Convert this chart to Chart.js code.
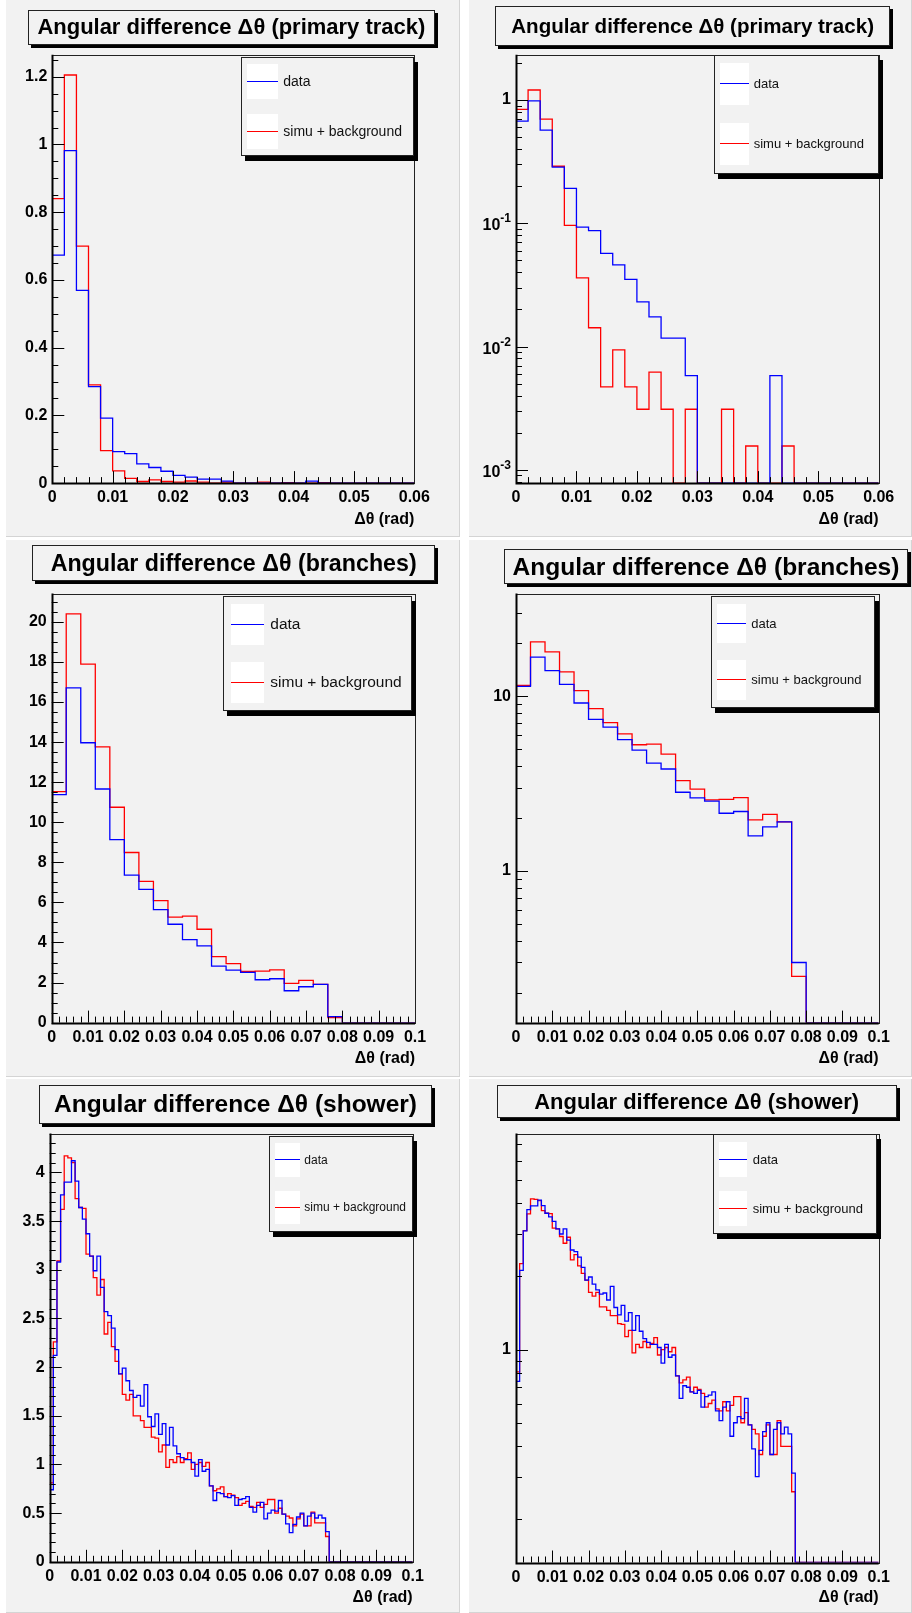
<!DOCTYPE html>
<html>
<head>
<meta charset="utf-8">
<script src="https://cdn.jsdelivr.net/npm/chart.js@4.4.1/dist/chart.umd.min.js"></script>
<style>
  body { margin: 0; background: #fff; width: 912px; height: 1613px; position: relative; overflow: hidden;
         font-family: "Liberation Sans", Arial, sans-serif; }
  .pad { position: absolute; background: #f2f2f2; box-sizing: border-box;
         border-right: 1px solid #d4d4d4; border-bottom: 1px solid #d4d4d4; }
  .pad canvas { position: absolute; left: 0; top: 0; }
  .title { position: absolute; box-sizing: border-box; border: 1px solid #222; background: #f2f2f2;
           box-shadow: 3px 3px 0 #000; font-weight: bold; color: #000; text-align: center; white-space: nowrap; }
  .legend { position: absolute; box-sizing: border-box; border: 1px solid #222; background: #f2f2f2;
            box-shadow: 4px 5px 0 #000; }
  .sq { position: absolute; background: #fff; }
  .ln { position: absolute; height: 0; border-top: 1.5px solid; }
  .lt { position: absolute; color: #111; white-space: nowrap; }
  .xlab { position: absolute; font-weight: bold; font-size: 16px; color: #000; white-space: nowrap; }
</style>
</head>
<body>
<script>
// ---- values ----
// primary track: 30 bins of 0.002 rad (0 .. 0.06)
const primaryBinWidth = 0.002;
const primaryData = [0.673, 0.982, 0.569, 0.285, 0.192, 0.093, 0.087, 0.057, 0.046, 0.035,
                     0.023, 0.0174, 0.0117, 0.0117, 0.0058, 0, 0, 0, 0, 0,
                     0, 0.0058, 0, 0, 0, 0, 0, 0, 0, 0];
const primarySimu = [0.84, 1.205, 0.70, 0.29, 0.096, 0.036, 0.0142, 0.0047, 0.0094, 0.0047,
                     0.0031, 0.0062, 0.0031, 0, 0.0031, 0, 0, 0.0031, 0, 0.00156,
                     0, 0, 0.00156, 0, 0, 0, 0, 0, 0, 0];

// branches: 25 bins of 0.004 rad (0 .. 0.1)
const branchBinWidth = 0.004;
const branchData = [11.38, 16.71, 13.97, 11.66, 9.13, 7.36, 6.65, 5.64, 4.91, 4.14,
                    3.83, 2.82, 2.62, 2.51, 2.14, 2.19, 1.59, 1.79, 1.91, 0.30,
                    0, 0, 0, 0, 0];
const branchSimu = [11.53, 20.4, 17.89, 13.76, 10.75, 8.49, 7.05, 6.09, 5.27, 5.32,
                    4.66, 3.29, 2.94, 2.55, 2.57, 2.63, 1.96, 2.11, 1.91, 0.25,
                    0, 0, 0, 0, 0];

// shower: 100 bins of 0.001 rad (0 .. 0.1)
const showerBinWidth = 0.001;
const showerData = [0.74, 2.12, 3.08, 3.77, 3.90, 3.90, 4.12, 3.91, 3.64, 3.52,
                    3.37, 3.14, 2.99, 3.14, 2.82, 2.57, 2.53, 2.40, 2.18, 1.93,
                    1.99, 1.86, 1.76, 1.69, 1.71, 1.60, 1.82, 1.49, 1.39, 1.52,
                    1.31, 1.42, 1.20, 1.38, 1.19, 1.11, 1.07, 1.05, 1.05, 1.02,
                    0.88, 1.05, 0.93, 0.95, 0.78, 0.63, 0.71, 0.70, 0.67, 0.66,
                    0.68, 0.58, 0.64, 0.65, 0.67, 0.56, 0.51, 0.58, 0.61, 0.44,
                    0.50, 0.53, 0.52, 0.63, 0.49, 0.39, 0.30, 0.385, 0.46, 0.50,
                    0.37, 0.47, 0.50, 0.45, 0.48, 0.45, 0.31, 0, 0, 0,
                    0, 0, 0, 0, 0, 0, 0, 0, 0, 0,
                    0, 0, 0, 0, 0, 0, 0, 0, 0, 0];
const showerSimu = [0.81, 2.26, 3.09, 3.62, 4.17, 4.15, 4.10, 3.73, 3.64, 3.63,
                    3.16, 3.14, 2.92, 2.74, 2.90, 2.34, 2.46, 2.21, 2.06, 1.93,
                    1.72, 1.66, 1.72, 1.50, 1.50, 1.45, 1.38, 1.38, 1.28, 1.27,
                    1.13, 1.20, 0.97, 1.05, 1.02, 1.08, 1.02, 1.06, 1.12, 0.95,
                    1.00, 1.02, 0.98, 1.02, 0.78, 0.73, 0.75, 0.77, 0.67, 0.70,
                    0.685, 0.66, 0.58, 0.60, 0.62, 0.57, 0.56, 0.61, 0.56, 0.59,
                    0.64, 0.64, 0.50, 0.55, 0.49, 0.47, 0.45, 0.37, 0.44, 0.49,
                    0.37, 0.37, 0.51, 0.40, 0.40, 0.40, 0.26, 0, 0, 0,
                    0, 0, 0, 0, 0, 0, 0, 0, 0, 0,
                    0, 0, 0, 0, 0, 0, 0, 0, 0, 0];

const seriesNames = ['data', 'simu + background'];
const seriesColors = ['#0000ff', '#ff0000'];
const titlePrimary = 'Angular difference Δθ (primary track)';
const titleBranches = 'Angular difference Δθ (branches)';
const titleShower = 'Angular difference Δθ (shower)';
const xTitle = 'Δθ (rad)';

// ---- pad layout (pixels inside each pad) ----
const pads = [
  { left: 6, top: 0, w: 454, h: 537, title: titlePrimary, titleBox: [21.7, 10.1, 429, 44.6], titleW: 388,
    frame: [46.3, 54.7, 408.3, 483.1], legBox: [234.7, 57.4, 408.3, 156], legSq: [240.7, 271.7],
    legRows: [[64, 98.6], [114, 148.6]], legTextX: 277.3, legFont: 14, xlabY: 518.6,
    xMax: 0.06, y: { type: 'linear', min: 0, max: 1.265, major: 0.2, minor: 0.05 },
    data: primaryData, simu: primarySimu, bin: primaryBinWidth },
  { left: 469, top: 0, w: 443, h: 537, title: titlePrimary, titleBox: [26.3, 6, 421, 46.3], titleW: 363,
    frame: [47, 54.7, 409.7, 483.1], legBox: [244.7, 54.7, 409.7, 174], legSq: [251, 279.7],
    legRows: [[63, 104.7], [123, 165]], legTextX: 284.7, legFont: 13, xlabY: 518.6,
    xMax: 0.06, y: { type: 'logarithmic', min: 0.00078, max: 2.33 },
    data: primaryData, simu: primarySimu, bin: primaryBinWidth },
  { left: 6, top: 540, w: 454, h: 537, title: titleBranches, titleBox: [26.3, 5.2, 429, 41.4], titleW: 366,
    frame: [45.7, 53.5, 409, 482.6], legBox: [217.3, 55.9, 406.3, 170.7], legSq: [224.7, 258],
    legRows: [[64.3, 104.9], [122.4, 163]], legTextX: 264.3, legFont: 15.5, xlabY: 518,
    xMax: 0.1, y: { type: 'linear', min: 0, max: 21.42, major: 2, minor: 0.5 },
    data: branchData, simu: branchSimu, bin: branchBinWidth },
  { left: 469, top: 540, w: 443, h: 537, title: titleBranches, titleBox: [35.3, 8.6, 438.7, 44], titleW: 387,
    frame: [47, 53.5, 409.7, 482.6], legBox: [242, 56.2, 406.3, 168], legSq: [248, 277],
    legRows: [[63.6, 103.5], [119.7, 159.6]], legTextX: 282.3, legFont: 13, xlabY: 518,
    xMax: 0.1, y: { type: 'logarithmic', min: 0.136, max: 38.6 },
    data: branchData, simu: branchSimu, bin: branchBinWidth },
  { left: 6, top: 1079, w: 454, h: 534, title: titleShower, titleBox: [33.3, 5.7, 425.7, 44.6], titleW: 363,
    frame: [43.7, 54.5, 406.7, 482.8], legBox: [263.3, 57, 406.7, 153], legSq: [269, 294],
    legRows: [[64, 98.3], [111.7, 145.3]], legTextX: 298.3, legFont: 12, xlabY: 518,
    xMax: 0.1, y: { type: 'linear', min: 0, max: 4.4, major: 0.5, minor: 0.1 },
    data: showerData, simu: showerSimu, bin: showerBinWidth },
  { left: 469, top: 1079, w: 443, h: 534, title: titleShower, titleBox: [27.7, 5.7, 427.7, 39.3], titleW: 325,
    frame: [47, 54.5, 409.7, 483.5], legBox: [243.7, 55, 408, 155], legSq: [249.7, 277.7],
    legRows: [[63, 97.6], [112.4, 147]], legTextX: 283.7, legFont: 13, xlabY: 518,
    xMax: 0.1, y: { type: 'logarithmic', min: 0.133, max: 7.75 },
    data: showerData, simu: showerSimu, bin: showerBinWidth }
];

const YW = 40, XH = 30;
const fontFamily = '"Liberation Sans", Arial, sans-serif';
const labelFont = { family: fontFamily, size: 16, weight: 'bold' };

const fmt = v => String(Number(v.toFixed(4)));
// decades >= 1 are plain tick labels; negative powers are drawn as 10 + superscript by the plugin
function logLabel(v) {
  const l = Math.log10(v), e = Math.round(l);
  if (Math.abs(l - e) > 1e-6 || e < 0) return '';
  return e === 0 ? '1' : String(Math.pow(10, e));
}

// step outline: one point per bin low edge plus the closing upper edge
function histPoints(values, binWidth, floor) {
  const pts = values.map((v, i) => ({ x: i * binWidth, y: floor ? Math.max(v, floor) : v }));
  pts.push({ x: values.length * binWidth, y: pts[pts.length - 1].y });
  return pts;
}

const mctx = document.createElement('canvas').getContext('2d');
function fitFont(text, width) {
  mctx.font = 'bold 100px "Liberation Sans"';
  return 100 * width / mctx.measureText(text).width;
}

// ROOT style frame: inward ticks on the left and bottom axes
const rootFrame = {
  id: 'rootFrame',
  afterDatasetsDraw(chart, args, o) {
    const { ctx, chartArea: a } = chart;
    const x = chart.scales.x, y = chart.scales.y;
    ctx.save();
    ctx.strokeStyle = '#000';
    ctx.lineWidth = 1;
    ctx.beginPath();
    const nx = Math.round((x.max - x.min) / 0.002);
    for (let k = 0; k <= nx; k++) {
      const px = Math.round(x.getPixelForValue(x.min + k * 0.002)) + 0.5;
      const len = k % 5 === 0 ? 12 : 6;
      ctx.moveTo(px, a.bottom); ctx.lineTo(px, a.bottom - len);
    }
    const negDecades = [];
    if (o.log) {
      for (let e = Math.floor(Math.log10(y.min)); e <= Math.ceil(Math.log10(y.max)); e++) {
        for (let m = 1; m < 10; m++) {
          const v = m * Math.pow(10, e);
          if (v < y.min || v > y.max) continue;
          const py = Math.round(y.getPixelForValue(v)) + 0.5;
          ctx.moveTo(a.left, py); ctx.lineTo(a.left + (m === 1 ? 12 : 6), py);
          if (m === 1 && e < 0) negDecades.push([e, y.getPixelForValue(v)]);
        }
      }
    } else {
      const per = Math.round(o.major / o.minor);
      const ny = Math.floor((y.max - y.min) / o.minor + 1e-6);
      for (let k = 0; k <= ny; k++) {
        const py = Math.round(y.getPixelForValue(y.min + k * o.minor)) + 0.5;
        ctx.moveTo(a.left, py); ctx.lineTo(a.left + (k % per === 0 ? 12 : 6), py);
      }
    }
    ctx.stroke();
    ctx.strokeStyle = '#222';
    ctx.strokeRect(Math.round(a.left) + 0.5, Math.round(a.top) + 0.5,
                   Math.round(a.right - a.left), Math.round(a.bottom - a.top));
    ctx.strokeStyle = '#000';
    ctx.lineWidth = 2;
    ctx.beginPath();
    ctx.moveTo(Math.round(a.left) + 0.5, a.top);
    ctx.lineTo(Math.round(a.left) + 0.5, Math.round(a.bottom) + 0.5);
    ctx.lineTo(a.right, Math.round(a.bottom) + 0.5);
    ctx.stroke();

    // labels 10^-n with a raised exponent, as ROOT prints them
    ctx.fillStyle = '#000';
    ctx.textAlign = 'right';
    ctx.textBaseline = 'alphabetic';
    negDecades.forEach(([e, py]) => {
      const right = a.left - 5;
      ctx.font = 'bold 12px ' + fontFamily;
      const expText = String(e);
      const ew = ctx.measureText(expText).width;
      ctx.fillText(expText, right, py - 1);
      ctx.font = 'bold 16px ' + fontFamily;
      ctx.fillText('10', right - ew, py + 7);
    });
    ctx.restore();
  }
};

function el(parent, cls, css, text) {
  const d = document.createElement('div');
  d.className = cls;
  Object.assign(d.style, css);
  if (text !== undefined) d.textContent = text;
  parent.appendChild(d);
  return d;
}

pads.forEach(p => {
  const pad = el(document.body, 'pad', { left: p.left + 'px', top: p.top + 'px', width: p.w + 'px', height: p.h + 'px' });
  const W = p.w - 1, H = p.h - 1;
  const cv = document.createElement('canvas');
  cv.width = W; cv.height = H;
  cv.style.width = W + 'px'; cv.style.height = H + 'px';
  pad.appendChild(cv);

  const [fl, ft, fr, fb] = p.frame;
  const isLog = p.y.type === 'logarithmic';
  const floor = isLog ? p.y.min : 0;

  const yScale = isLog ? {
    type: 'logarithmic', min: p.y.min, max: p.y.max,
    ticks: { autoSkip: false, padding: 5, color: '#000', font: labelFont, callback: v => logLabel(v) }
  } : {
    type: 'linear', min: p.y.min, max: p.y.max,
    ticks: { stepSize: p.y.major, includeBounds: false, autoSkip: false, padding: 5, color: '#000',
             font: labelFont, callback: v => fmt(v) }
  };
  Object.assign(yScale, {
    grid: { display: false, drawTicks: false }, border: { display: false },
    afterFit: s => { s.width = YW; }
  });

  new Chart(cv, {
    type: 'line',
    data: {
      datasets: [
        { label: seriesNames[0], data: histPoints(p.data, p.bin, floor), borderColor: seriesColors[0] },
        { label: seriesNames[1], data: histPoints(p.simu, p.bin, floor), borderColor: seriesColors[1] }
      ].map(d => Object.assign(d, { stepped: true, borderWidth: 1.3, pointRadius: 0, fill: false, tension: 0 }))
    },
    options: {
      responsive: false, animation: false, devicePixelRatio: 1, events: [],
      layout: { padding: { left: fl - YW, top: ft, right: W - fr, bottom: H - fb - XH } },
      plugins: {
        legend: { display: false }, tooltip: { enabled: false },
        rootFrame: { log: isLog, major: p.y.major, minor: p.y.minor }
      },
      scales: {
        x: {
          type: 'linear', min: 0, max: p.xMax,
          grid: { display: false, drawTicks: false }, border: { display: false },
          afterFit: s => { s.height = XH; },
          ticks: { stepSize: 0.01, includeBounds: false, autoSkip: false, maxRotation: 0, padding: 5,
                   color: '#000', font: labelFont, callback: v => fmt(v) }
        },
        y: yScale
      }
    },
    plugins: [rootFrame]
  });

  // title box
  const [tx1, ty1, tx2, ty2] = p.titleBox;
  el(pad, 'title', {
    left: tx1 + 'px', top: ty1 + 'px', width: (tx2 - tx1) + 'px', height: (ty2 - ty1) + 'px',
    fontSize: fitFont(p.title, p.titleW).toFixed(2) + 'px', lineHeight: (ty2 - ty1 - 2) + 'px'
  }, p.title);

  // legend
  const [lx1, ly1, lx2, ly2] = p.legBox;
  el(pad, 'legend', { left: lx1 + 'px', top: ly1 + 'px', width: (lx2 - lx1) + 'px', height: (ly2 - ly1) + 'px' });
  p.legRows.forEach((r, i) => {
    const mid = (r[0] + r[1]) / 2;
    el(pad, 'sq', { left: p.legSq[0] + 'px', top: r[0] + 'px', width: (p.legSq[1] - p.legSq[0]) + 'px', height: (r[1] - r[0]) + 'px' });
    el(pad, 'ln', { left: p.legSq[0] + 'px', top: (mid - 0.75) + 'px', width: (p.legSq[1] - p.legSq[0]) + 'px', borderTopColor: seriesColors[i] });
    el(pad, 'lt', { left: p.legTextX + 'px', top: (mid - p.legFont * 0.6) + 'px', fontSize: p.legFont + 'px', lineHeight: (p.legFont * 1.2) + 'px' }, seriesNames[i]);
  });

  // x axis title, right aligned with the frame
  el(pad, 'xlab', { right: (W - fr) + 'px', top: (p.xlabY - 10) + 'px', lineHeight: '20px' }, xTitle);
});
</script>
</body>
</html>
